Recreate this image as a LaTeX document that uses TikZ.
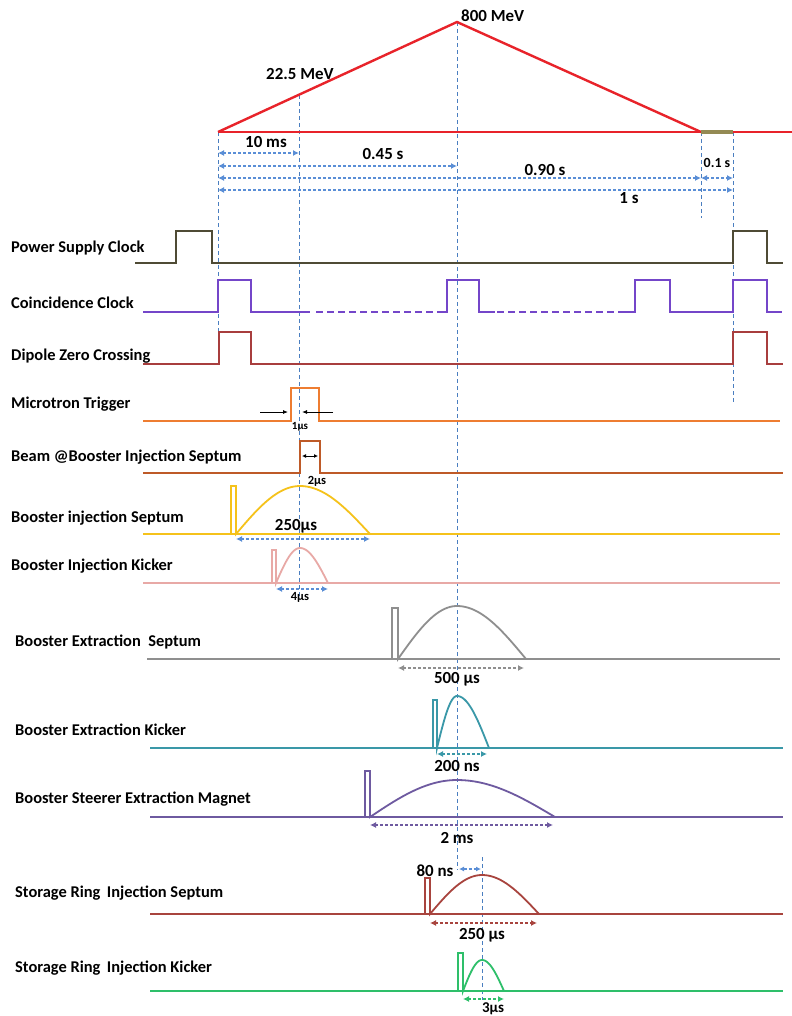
\documentclass[tikz,border=0pt]{standalone}
\usepackage{fontspec}
\setmainfont{Carlito}
\usetikzlibrary{arrows.meta}
\definecolor{rampred}{HTML}{E8232A}
\definecolor{olivebar}{HTML}{948A54}
\definecolor{guideblue}{HTML}{4A7EC0}
\definecolor{dimblue}{HTML}{5A8ED6}
\definecolor{psclk}{HTML}{4F4B35}
\definecolor{coin}{HTML}{7446C9}
\definecolor{dipole}{HTML}{A83E3E}
\definecolor{micro}{HTML}{EE7D31}
\definecolor{beam}{HTML}{BE5A28}
\definecolor{binjsep}{HTML}{F5C21B}
\definecolor{binjkick}{HTML}{E8A9A6}
\definecolor{bextsep}{HTML}{8F8F8F}
\definecolor{bextkick}{HTML}{3A98A8}
\definecolor{steer}{HTML}{6E5AA0}
\definecolor{srsep}{HTML}{A8443E}
\definecolor{srkick}{HTML}{2EBF6A}
\tikzset{
  lab/.style={font=\bfseries\fontsize{16.5}{16.5}\selectfont, anchor=west, inner sep=0pt},
  val/.style={font=\bfseries\fontsize{17}{17}\selectfont, inner sep=0pt},
  small/.style={font=\bfseries\fontsize{11}{11}\selectfont, inner sep=0pt},
  trace/.style={line width=1.8bp, line join=miter},
  guide/.style={draw=guideblue, dash pattern=on 4bp off 3bp, line width=0.9bp},
  dimline/.style={line width=1.4bp, dash pattern=on 3bp off 2bp,
     {Latex[length=6bp,width=6bp]}-{Latex[length=6bp,width=6bp]}},
  dashseg/.style={dash pattern=on 7bp off 4bp},
  tick/.style={line width=0.8bp, -{Latex[length=5bp,width=4bp]}},
}
% #1 colour, #2 base y, #3 spike left x, #4 spike right x, #5 spike top y,
% #6 peak x, #7 peak y, #8 end x
\newcommand\spikearch[8]{%
  \draw[trace,#1] (#3,#2) -- (#3,#5) -- (#4,#5) -- (#4,#2)
    -- plot[domain=0:1,samples=30] ({#4+\x*(#6-#4)},{#2-(#2-#7)*sin(90*\x)})
    -- plot[domain=0:1,samples=30] ({#6+\x*(#8-#6)},{#2-(#2-#7)*cos(90*\x)});
}
\begin{document}
\begin{tikzpicture}[x=1bp,y=-1bp]
\useasboundingbox (0,0) rectangle (792,1016);
\fill[white] (0,0) rectangle (792,1016);

% guide lines
\draw[guide] (218,132) -- (218,332);
\draw[guide] (299,95) -- (299,598);
\draw[guide] (457,22) -- (457,870);
\draw[guide] (701,132) -- (701,218);
\draw[guide] (733,132) -- (733,405);
\draw[guide] (482,857) -- (482,1000);

% energy ramp
\draw[rampred, line width=2.4bp, line join=miter] (218,132) -- (457,22) -- (701,132);
\draw[rampred, line width=2.4bp] (218,132) -- (701,132);
\draw[olivebar, line width=4bp] (701,132) -- (733,132);
\draw[rampred, line width=2.4bp] (733,132) -- (792,132);
\node[val, anchor=west] (e800) at (461,16) {800 MeV};
\node[val, anchor=west] (e22) at (266,74) {22.5 MeV};

% time dimensions
\draw[dimline, dimblue] (218,153) -- (299,153);
\draw[dimline, dimblue] (218,166) -- (457,166);
\draw[dimline, dimblue] (218,178) -- (701,178);
\draw[dimline, dimblue] (701,178) -- (733,178);
\draw[dimline, dimblue] (218,190) -- (733,190);
\node[val] (t10) at (266,142) {10 ms};
\node[val] (t045) at (383,154) {0.45 s};
\node[val] (t090) at (545,170) {0.90 s};
\node[small, font=\bfseries\fontsize{14}{14}\selectfont] (t01) at (717,163) {0.1 s};
\node[val] (t1) at (629,198) {1 s};

% labels
\node[lab] (lps) at (11,248) {Power Supply Clock};
\node[lab] (lcc) at (11,303) {Coincidence Clock};
\node[lab] (ldz) at (11,356) {Dipole Zero Crossing};
\node[lab] (lmt) at (11,404) {Microtron Trigger};
\node[lab] (lbb) at (11,457) {Beam @Booster Injection Septum};
\node[lab] (lbis) at (11,518) {Booster injection Septum};
\node[lab] (lbik) at (11,566) {Booster Injection Kicker};
\node[lab] (lbes) at (15,642) {Booster Extraction\ \ Septum};
\node[lab] (lbek) at (15,730) {Booster Extraction Kicker};
\node[lab] (lbsm) at (15,799) {Booster Steerer Extraction Magnet};
\node[lab] (lsrs) at (15,893) {Storage Ring\, Injection Septum};
\node[lab] (lsrk) at (15,968) {Storage Ring\, Injection Kicker};

% power supply clock
\draw[trace,psclk] (135,263) -- (176,263) -- (176,231) -- (212,231) -- (212,263)
  -- (733,263) -- (733,231) -- (767,231) -- (767,263) -- (783,263);

% coincidence clock
\draw[trace,coin] (143,312) -- (218,312) -- (218,280) -- (251,280) -- (251,312) -- (310,312);
\draw[trace,coin,dashseg] (316,312) -- (440,312);
\draw[trace,coin] (440,312) -- (447,312) -- (447,280) -- (479,280) -- (479,312) -- (495,312);
\draw[trace,coin,dashseg] (497,312) -- (620,312);
\draw[trace,coin] (620,312) -- (635,312) -- (635,280) -- (670,280) -- (670,312)
  -- (733,312) -- (733,280) -- (767,280) -- (767,312) -- (782,312);

% dipole zero crossing
\draw[trace,dipole] (143,364) -- (219,364) -- (219,332) -- (251,332) -- (251,364)
  -- (733,364) -- (733,332) -- (767,332) -- (767,364) -- (783,364);

% microtron trigger
\draw[trace,micro] (143,421) -- (291,421) -- (291,388) -- (319,388) -- (319,421) -- (780,421);
\draw[tick] (260,412) -- (288,412);
\draw[tick] (333,412) -- (302,412);
\node[small] (t1us) at (300,427) {1µs};

% beam at booster injection septum
\draw[trace,beam] (143,473) -- (300,473) -- (300,441) -- (320,441) -- (320,473) -- (783,473);
\draw[line width=0.8bp, {Latex[length=4bp,width=4bp]}-{Latex[length=4bp,width=4bp]}] (302,456) -- (318,456);
\node[small, font=\bfseries\fontsize{12.5}{12.5}\selectfont] (t2us) at (317,481) {2µs};

% booster injection septum
\draw[trace,binjsep] (143,534) -- (780,534);
\spikearch{binjsep}{534}{231}{236}{486}{300}{486}{370}
\draw[dimline, dimblue] (236,539) -- (370,539);
\node[val, font=\bfseries\fontsize{17}{17}\selectfont] (t250a) at (296,526) {250µs};

% booster injection kicker
\draw[trace,binjkick] (143,583) -- (780,583);
\spikearch{binjkick}{583}{272}{276}{550}{300}{548}{328}
\draw[dimline, dimblue] (276,589) -- (328,589);
\node[small, font=\bfseries\fontsize{12.5}{12.5}\selectfont] (t4us) at (300,597) {4µs};

% booster extraction septum
\draw[trace,bextsep] (147,659) -- (780,659);
\spikearch{bextsep}{659}{392}{398}{608}{457}{606}{526}
\draw[dimline, bextsep] (398,668) -- (524,668);
\node[val] (t500) at (457,679) {500 µs};

% booster extraction kicker
\draw[trace,bextkick] (150,748) -- (783,748);
\spikearch{bextkick}{748}{433}{437}{700}{457}{696}{489}
\draw[dimline, bextkick] (437,754) -- (487,754);
\node[val] (t200) at (457,766) {200 ns};

% booster steerer extraction magnet
\draw[trace,steer] (150,817) -- (783,817);
\spikearch{steer}{817}{365}{370}{771}{457}{780}{555}
\draw[dimline, steer] (370,825) -- (553,825);
\node[val] (t2ms) at (457,838) {2 ms};

% storage ring injection septum
\draw[trace,srsep] (150,914) -- (783,914);
\spikearch{srsep}{914}{425}{430}{878}{482}{875}{539}
\draw[dimline, srsep] (430,923) -- (537,923);
\node[val] (t250b) at (482,935) {250 µs};
\node[val] (t80) at (435,871) {80 ns};
\draw[dimline, dimblue, {Latex[length=5bp,width=5bp]}-{Latex[length=5bp,width=5bp]}] (459,869) -- (481,869);

% storage ring injection kicker
\draw[trace,srkick] (150,991) -- (783,991);
\spikearch{srkick}{991}{458}{463}{953}{482}{960}{504}
\draw[dimline, srkick] (463,999) -- (504,999);
\node[val, font=\bfseries\fontsize{15}{15}\selectfont] (t3us) at (493,1009) {3µs};
\end{tikzpicture}
\end{document}
